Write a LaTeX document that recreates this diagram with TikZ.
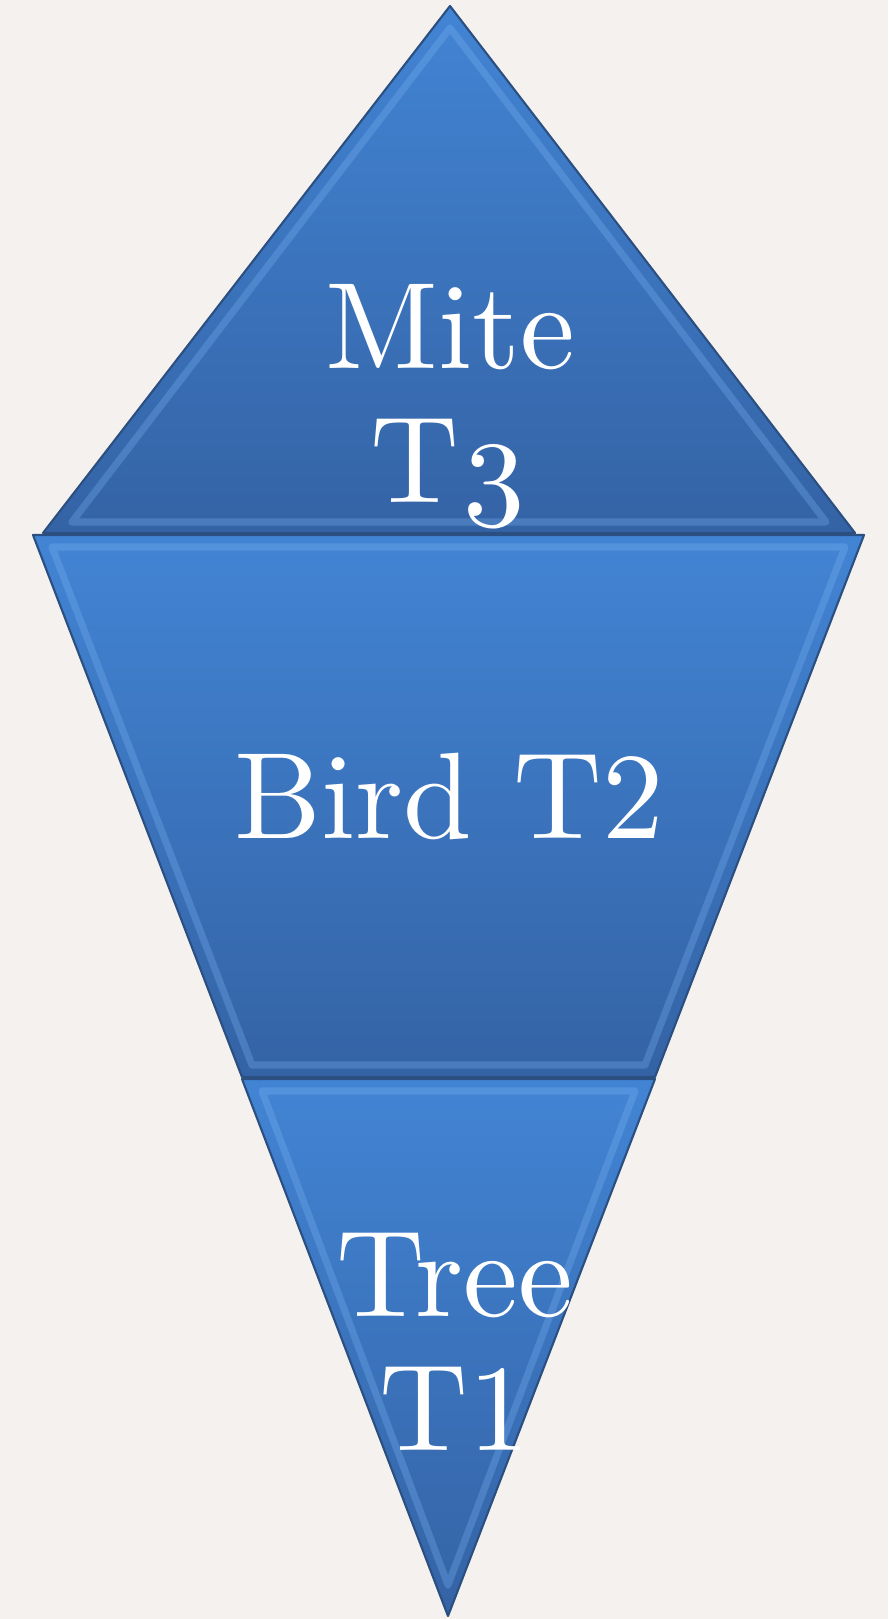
\documentclass[tikz,border=0pt]{standalone}
\usepackage{fontspec}
\usepackage{tikz}
\usetikzlibrary{positioning}

\newfontfamily\tierfont{lmroman10-regular.otf}

\definecolor{paper}{HTML}{F5F1EE}
\definecolor{tiertop}{HTML}{4284D4}
\definecolor{tierbot}{HTML}{3463A5}
\definecolor{rim}{HTML}{2A4F80}
\definecolor{glint}{HTML}{7DB6F5}

\begin{document}
\begin{tikzpicture}[
    x=0.01cm, y=-0.01cm,
    tier/.style={top color=tiertop, bottom color=tierbot, draw=rim, line width=0.6pt, line join=round},
    bevel/.style={draw=glint, line width=2pt, opacity=0.3, line join=round},
    tiertext/.style={text=white, font=\tierfont\fontsize{35}{38}\selectfont, align=center, anchor=base}
]

\fill[paper] (0,0) rectangle (888,1619);
\useasboundingbox (0,0) rectangle (888,1619);

% top level
\shade[tier] (450,6) -- (855,533) -- (43,533) -- cycle;
\draw[bevel] (450,28) -- (826,522) -- (72,522) -- cycle;

% middle level
\shade[tier] (33,535) -- (864,535) -- (655,1077) -- (242,1077) -- cycle;
\draw[bevel] (52,547) -- (845,547) -- (645,1065) -- (252,1065) -- cycle;

% bottom level
\shade[tier] (242,1079) -- (655,1079) -- (448,1616) -- cycle;
\draw[bevel] (262,1091) -- (635,1091) -- (448,1585) -- cycle;

% base anchor sits on the last line
\node[tiertext] (mite) at (450,502) {Mite\\T\oldstylenums{3}};
\node[tiertext] (bird) at (449,838) {Bird T2};
\node[tiertext] (tree) at (455,1450) {Tree\\T1};

\end{tikzpicture}
\end{document}
